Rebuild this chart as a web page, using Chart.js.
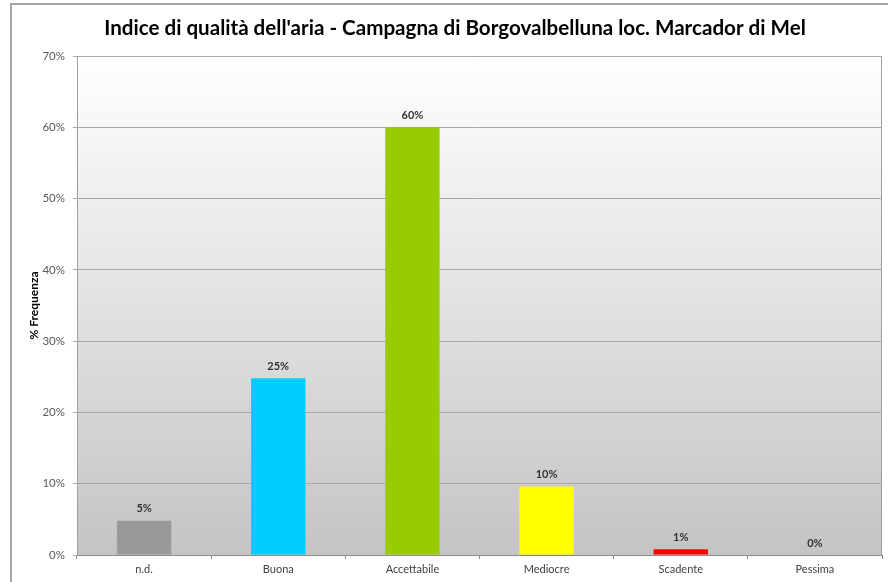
<!DOCTYPE html>
<html>
<head>
<meta charset="utf-8">
<script src="https://cdn.jsdelivr.net/npm/chart.js@4/dist/chart.umd.min.js"></script>
<style>
  html, body { margin: 0; padding: 0; background: #ffffff; }
  #wrap { width: 888px; height: 582px; }
</style>
</head>
<body>
<div id="wrap"><canvas id="myChart" width="888" height="582"></canvas></div>
<script>
'use strict';

// ======= data =======
var chartTitle = 'Indice di qualità dell\'aria - Campagna di Borgovalbelluna loc. Marcador di Mel';
var categories = ['n.d.', 'Buona', 'Accettabile', 'Mediocre', 'Scadente', 'Pessima'];
var frequency = [4.8, 24.8, 60.0, 9.6, 0.8, 0];
var barColors = ['#999999', '#00ccff', '#99cc00', '#ffff00', '#ff0000', '#808080'];
var yTicks = [0, 10, 20, 30, 40, 50, 60, 70];

var fontFamily = 'Lato, "Open Sans", sans-serif';

// outer frame + plot background gradient + title
var backgroundPlugin = {
  id: 'background',
  beforeDraw: function (chart) {
    var ctx = chart.ctx;
    var area = chart.chartArea;
    ctx.save();
    ctx.strokeStyle = '#a6a6a6';
    ctx.lineWidth = 2;
    ctx.strokeRect(11, 4, 900, 600);
    var grad = ctx.createLinearGradient(0, area.top, 0, area.bottom);
    grad.addColorStop(0, '#ffffff');
    grad.addColorStop(1, '#c4c4c4');
    ctx.fillStyle = grad;
    ctx.fillRect(area.left, area.top, area.right - area.left, area.bottom - area.top);
    ctx.strokeStyle = '#a0a0a0';
    ctx.lineWidth = 1;
    ctx.strokeRect(area.left + 0.5, area.top + 0.5, area.right - area.left - 1, area.bottom - area.top);
    ctx.fillStyle = '#000000';
    ctx.font = 'bold 20.6px ' + fontFamily;
    ctx.textAlign = 'center';
    ctx.textBaseline = 'middle';
    ctx.fillText(chartTitle, 455, 28);
    ctx.restore();
  }
};

// value labels on top of each bar
var valueLabels = {
  id: 'valueLabels',
  afterDatasetsDraw: function (chart) {
    var ctx = chart.ctx;
    var meta = chart.getDatasetMeta(0);
    ctx.save();
    ctx.fillStyle = '#333333';
    ctx.font = 'bold 11px ' + fontFamily;
    ctx.textAlign = 'center';
    ctx.textBaseline = 'middle';
    meta.data.forEach(function (bar, i) {
      ctx.fillText(Math.round(frequency[i]) + '%', bar.x, bar.y - 12);
    });
    ctx.restore();
  }
};

var ctx = document.getElementById('myChart').getContext('2d');
var chart = new Chart(ctx, {
  type: 'bar',
  data: {
    labels: categories,
    datasets: [{
      data: frequency,
      backgroundColor: barColors,
      borderWidth: 0,
      barPercentage: 0.405,
      categoryPercentage: 1.0
    }]
  },
  options: {
    responsive: false,
    animation: false,
    layout: { padding: { left: 12, top: 56, right: 6, bottom: 0 } },
    plugins: {
      legend: { display: false },
      title: { display: false },
      tooltip: { enabled: false }
    },
    scales: {
      y: {
        min: 0,
        max: 70,
        afterFit: function (scale) { scale.width = 65; },
        afterBuildTicks: function (scale) {
          scale.ticks = yTicks.map(function (v) { return { value: v }; });
        },
        ticks: {
          color: '#595959',
          font: { family: fontFamily, size: 11.5 },
          padding: 8,
          callback: function (v) { return v + '%'; }
        },
        grid: { color: '#a8a8a8', tickLength: 4 },
        border: { display: false },
        title: {
          display: true,
          text: '% Frequenza',
          color: '#000000',
          font: { family: fontFamily, size: 12, weight: 'bold' },
          padding: { top: 15, bottom: 0 }
        }
      },
      x: {
        afterFit: function (scale) { scale.height = 27; },
        ticks: {
          color: '#404040',
          font: { family: fontFamily, size: 11 },
          padding: 4
        },
        grid: { offset: true, drawOnChartArea: false, tickLength: 4, color: '#8c8c8c' },
        border: { color: '#8c8c8c' }
      }
    }
  },
  plugins: [backgroundPlugin, valueLabels]
});
</script>
</body>
</html>
